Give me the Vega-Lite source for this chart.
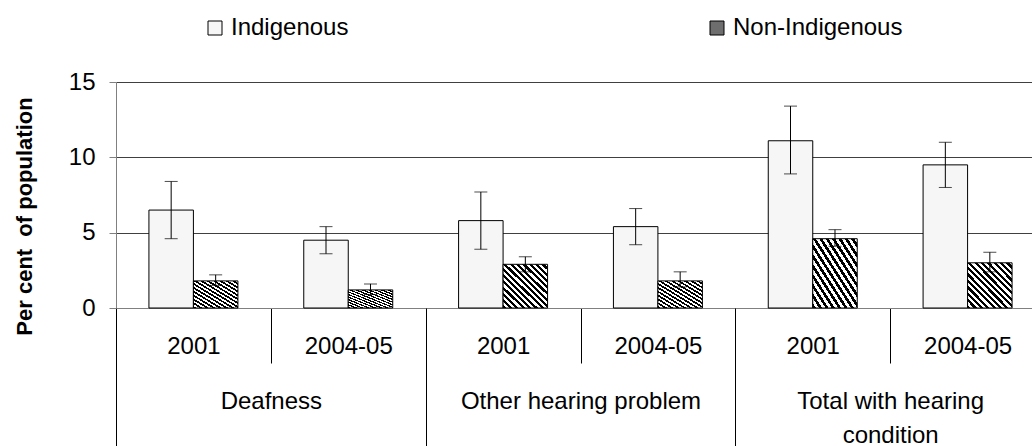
{
  "$schema": "https://vega.github.io/schema/vega-lite/v6.json",
  "width": 916,
  "height": 226,
  "autosize": {"type": "none"},
  "padding": {"left": 116, "top": 82, "right": 0, "bottom": 138},
  "background": "white",
  "config": {
    "font": "Liberation Sans",
    "view": {"stroke": null},
    "axis": {"labelFont": "Liberation Sans", "titleFont": "Liberation Sans"},
    "legend": {"labelFont": "Liberation Sans"}
  },
  "data": {
    "values": [
      {"group": "Deafness", "year": "2001", "cat": "Deafness|2001", "series": "Indigenous", "value": 6.5, "lo": 4.6, "hi": 8.4},
      {"group": "Deafness", "year": "2001", "cat": "Deafness|2001", "series": "Non-Indigenous", "value": 1.8, "lo": 1.5, "hi": 2.2},
      {"group": "Deafness", "year": "2004-05", "cat": "Deafness|2004-05", "series": "Indigenous", "value": 4.5, "lo": 3.6, "hi": 5.4},
      {"group": "Deafness", "year": "2004-05", "cat": "Deafness|2004-05", "series": "Non-Indigenous", "value": 1.2, "lo": 0.9, "hi": 1.6},
      {"group": "Other hearing problem", "year": "2001", "cat": "Other hearing problem|2001", "series": "Indigenous", "value": 5.8, "lo": 3.9, "hi": 7.7},
      {"group": "Other hearing problem", "year": "2001", "cat": "Other hearing problem|2001", "series": "Non-Indigenous", "value": 2.9, "lo": 2.4, "hi": 3.4},
      {"group": "Other hearing problem", "year": "2004-05", "cat": "Other hearing problem|2004-05", "series": "Indigenous", "value": 5.4, "lo": 4.2, "hi": 6.6},
      {"group": "Other hearing problem", "year": "2004-05", "cat": "Other hearing problem|2004-05", "series": "Non-Indigenous", "value": 1.8, "lo": 1.4, "hi": 2.4},
      {"group": "Total with hearing condition", "year": "2001", "cat": "Total with hearing condition|2001", "series": "Indigenous", "value": 11.1, "lo": 8.9, "hi": 13.4},
      {"group": "Total with hearing condition", "year": "2001", "cat": "Total with hearing condition|2001", "series": "Non-Indigenous", "value": 4.6, "lo": 4.1, "hi": 5.2},
      {"group": "Total with hearing condition", "year": "2004-05", "cat": "Total with hearing condition|2004-05", "series": "Indigenous", "value": 9.5, "lo": 8.0, "hi": 11.0},
      {"group": "Total with hearing condition", "year": "2004-05", "cat": "Total with hearing condition|2004-05", "series": "Non-Indigenous", "value": 3.0, "lo": 2.4, "hi": 3.7}
    ]
  },
  "resolve": {"scale": {"x": "independent"}, "axis": {"x": "independent"}},
  "layer": [
    {
      "mark": {"type": "bar", "stroke": "black", "strokeWidth": 1},
      "encoding": {
        "x": {
          "field": "cat", "type": "nominal", "sort": null,
          "scale": {"type": "band", "paddingInner": 0, "paddingOuter": 0, "range": [0, 929]},
          "axis": {
            "orient": "bottom", "title": null,
            "labelExpr": "split(datum.value, '|')[1]",
            "labelAngle": 0, "labelFontSize": 24, "labelColor": "black",
            "labelBaseline": "middle", "labelPadding": -17, "labelLimit": 0,
            "ticks": true, "tickBand": "extent", "tickSize": 55, "tickColor": "black", "tickWidth": 1,
            "domain": true, "domainColor": "#808080", "domainWidth": 1, "grid": false
          }
        },
        "xOffset": {
          "field": "series", "type": "nominal", "sort": ["Indigenous", "Non-Indigenous"],
          "scale": {"paddingInner": 0, "paddingOuter": 0.74}
        },
        "y": {
          "field": "value", "type": "quantitative", "title": "Per cent\u00a0 of population",
          "scale": {"domain": [0, 15], "nice": false, "zero": true},
          "axis": {
            "values": [0, 5, 10, 15],
            "titleFontSize": 22, "titleFontWeight": "bold", "titleColor": "black",
            "titleAngle": -90, "titleX": -92, "titleY": 134, "titleAlign": "center", "titleBaseline": "middle",
            "labelFontSize": 24, "labelColor": "black", "labelPadding": 14,
            "tickSize": 7, "tickColor": "#808080", "domainColor": "#808080",
            "grid": true, "gridColor": "#404040", "gridWidth": 1
          }
        },
        "fill": {
          "condition": {
            "test": "datum.series === 'Non-Indigenous'",
            "value": {
              "gradient": "linear", "x1": 0, "y1": 1, "x2": 1, "y2": 0,
              "stops": [
                {"offset": 0, "color": "black"}, {"offset": 0.0357, "color": "black"}, {"offset": 0.0357, "color": "white"}, {"offset": 0.0714, "color": "white"},
                {"offset": 0.0714, "color": "black"}, {"offset": 0.1071, "color": "black"}, {"offset": 0.1071, "color": "white"}, {"offset": 0.1429, "color": "white"},
                {"offset": 0.1429, "color": "black"}, {"offset": 0.1786, "color": "black"}, {"offset": 0.1786, "color": "white"}, {"offset": 0.2143, "color": "white"},
                {"offset": 0.2143, "color": "black"}, {"offset": 0.25, "color": "black"}, {"offset": 0.25, "color": "white"}, {"offset": 0.2857, "color": "white"},
                {"offset": 0.2857, "color": "black"}, {"offset": 0.3214, "color": "black"}, {"offset": 0.3214, "color": "white"}, {"offset": 0.3571, "color": "white"},
                {"offset": 0.3571, "color": "black"}, {"offset": 0.3929, "color": "black"}, {"offset": 0.3929, "color": "white"}, {"offset": 0.4286, "color": "white"},
                {"offset": 0.4286, "color": "black"}, {"offset": 0.4643, "color": "black"}, {"offset": 0.4643, "color": "white"}, {"offset": 0.5, "color": "white"},
                {"offset": 0.5, "color": "black"}, {"offset": 0.5357, "color": "black"}, {"offset": 0.5357, "color": "white"}, {"offset": 0.5714, "color": "white"},
                {"offset": 0.5714, "color": "black"}, {"offset": 0.6071, "color": "black"}, {"offset": 0.6071, "color": "white"}, {"offset": 0.6429, "color": "white"},
                {"offset": 0.6429, "color": "black"}, {"offset": 0.6786, "color": "black"}, {"offset": 0.6786, "color": "white"}, {"offset": 0.7143, "color": "white"},
                {"offset": 0.7143, "color": "black"}, {"offset": 0.75, "color": "black"}, {"offset": 0.75, "color": "white"}, {"offset": 0.7857, "color": "white"},
                {"offset": 0.7857, "color": "black"}, {"offset": 0.8214, "color": "black"}, {"offset": 0.8214, "color": "white"}, {"offset": 0.8571, "color": "white"},
                {"offset": 0.8571, "color": "black"}, {"offset": 0.8929, "color": "black"}, {"offset": 0.8929, "color": "white"}, {"offset": 0.9286, "color": "white"},
                {"offset": 0.9286, "color": "black"}, {"offset": 0.9643, "color": "black"}, {"offset": 0.9643, "color": "white"}, {"offset": 1, "color": "white"}
              ]
            }
          },
          "field": "series", "type": "nominal",
          "scale": {"domain": ["Indigenous", "Non-Indigenous"], "range": ["#f6f6f6", "#6e6e6e"]},
          "legend": {
            "orient": "none", "legendX": 87, "legendY": -66, "direction": "horizontal",
            "columns": 2, "columnPadding": 356, "padding": 0, "title": null,
            "labelFontSize": 24, "labelColor": "black", "labelOffset": 4, "labelLimit": 0,
            "symbolType": "square", "symbolSize": 196, "symbolStrokeColor": "black", "symbolStrokeWidth": 1, "symbolOpacity": 1
          }
        }
      }
    },
    {
      "mark": {"type": "bar", "opacity": 0},
      "encoding": {
        "x": {
          "field": "group", "type": "nominal", "sort": null,
          "scale": {"type": "band", "paddingInner": 0, "paddingOuter": 0, "range": [0, 929]},
          "axis": {
            "orient": "bottom", "title": null,
            "labelExpr": "datum.value == 'Total with hearing condition' ? ['Total with hearing', 'condition'] : datum.value",
            "labelAngle": 0, "labelFontSize": 24, "labelColor": "black",
            "labelBaseline": "top", "labelPadding": -57, "labelLimit": 0, "labelLineHeight": 34,
            "ticks": true, "tickBand": "extent", "tickSize": 138, "tickColor": "black", "tickWidth": 1,
            "domain": false, "grid": false
          }
        },
        "y": {"field": "value", "type": "quantitative", "title": "Per cent\u00a0 of population"}
      }
    },
    {
      "mark": {"type": "rule", "color": "black", "strokeWidth": 1},
      "encoding": {
        "x": {"field": "cat", "type": "nominal", "sort": null, "scale": {"type": "band", "paddingInner": 0, "paddingOuter": 0, "range": [0, 929]}, "axis": null},
        "xOffset": {"field": "series", "type": "nominal", "sort": ["Indigenous", "Non-Indigenous"], "scale": {"paddingInner": 0, "paddingOuter": 0.74}},
        "y": {"field": "lo", "type": "quantitative", "title": "Per cent\u00a0 of population"},
        "y2": {"field": "hi"}
      }
    },
    {
      "mark": {"type": "tick", "color": "black", "size": 13, "thickness": 1, "orient": "horizontal"},
      "encoding": {
        "x": {"field": "cat", "type": "nominal", "sort": null, "scale": {"type": "band", "paddingInner": 0, "paddingOuter": 0, "range": [0, 929]}, "axis": null},
        "xOffset": {"field": "series", "type": "nominal", "sort": ["Indigenous", "Non-Indigenous"], "scale": {"paddingInner": 0, "paddingOuter": 0.74}},
        "y": {"field": "lo", "type": "quantitative", "title": "Per cent\u00a0 of population"}
      }
    },
    {
      "mark": {"type": "tick", "color": "black", "size": 13, "thickness": 1, "orient": "horizontal"},
      "encoding": {
        "x": {"field": "cat", "type": "nominal", "sort": null, "scale": {"type": "band", "paddingInner": 0, "paddingOuter": 0, "range": [0, 929]}, "axis": null},
        "xOffset": {"field": "series", "type": "nominal", "sort": ["Indigenous", "Non-Indigenous"], "scale": {"paddingInner": 0, "paddingOuter": 0.74}},
        "y": {"field": "hi", "type": "quantitative", "title": "Per cent\u00a0 of population"}
      }
    }
  ]
}
